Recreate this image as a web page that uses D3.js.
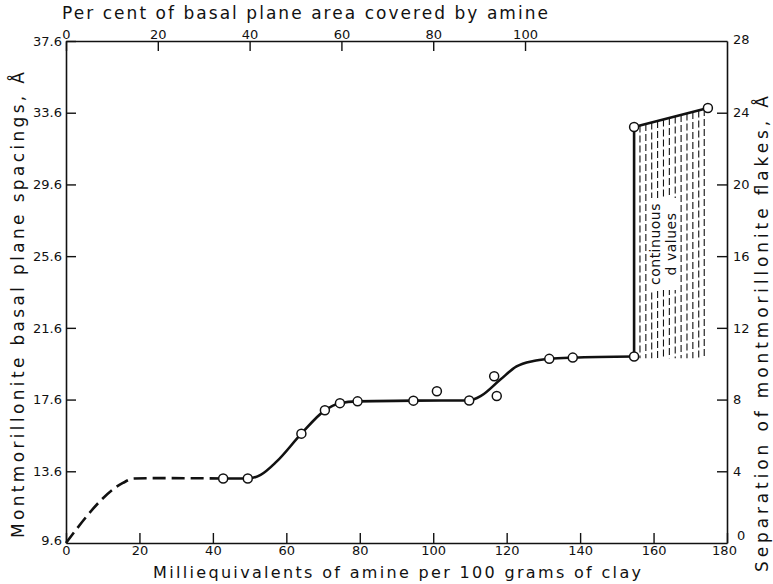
<!DOCTYPE html>
<html>
<head>
<meta charset="utf-8">
<script src="https://cdn.jsdelivr.net/npm/d3@7"></script>
<style>
  body { margin: 0; background: #fff; }
  svg { display: block; }
  text { font-family: "DejaVu Sans", sans-serif; fill: #111; }
</style>
</head>
<body>
<div id="chart"></div>
<script>
// tick values
const meqTicks = [0, 20, 40, 60, 80, 100, 120, 140, 160, 180];
const pctTicks = [0, 20, 40, 60, 80, 100];
const spacingTicks = [9.6, 13.6, 17.6, 21.6, 25.6, 29.6, 33.6, 37.6];
const sepTicks = [0, 4, 8, 12, 16, 20, 24, 28];

// measured points (meq, d spacing)
const pointMeq = [42.8, 49.5, 64.1, 70.5, 74.6, 79.4, 94.6, 101, 109.8, 116.6, 117.3, 131.6, 138, 154.7, 154.7, 174.8];
const pointD = [13.2, 13.2, 15.7, 17.0, 17.4, 17.5, 17.54, 18.06, 17.55, 18.9, 17.8, 19.87, 19.94, 20.0, 32.8, 33.86];

// dashed extrapolated part of the curve
const dashMeq = [0, 15.5, 18.5, 25, 42.8];
const dashD = [9.6, 12.95, 13.2, 13.22, 13.2];

// smooth fitted curve
const curveMeq = [42.8, 49.5, 53, 57.4, 64.1, 70.5, 74.6, 79.4, 94.6, 109.8, 113, 118.2, 122.7, 127.3, 131.6, 138, 154.7];
const curveD = [13.2, 13.2, 13.4, 14.15, 15.7, 17.0, 17.4, 17.5, 17.54, 17.55, 17.8, 18.7, 19.45, 19.75, 19.87, 19.94, 20.0];

// jump and upper segment
const jumpMeq = [154.7, 154.7, 174.8];
const jumpD = [20.0, 32.8, 33.86];

// hatched "continuous d values" region
const hatchMeq = [156.3, 157.9, 159.5, 161.1, 162.7, 164.3, 165.9, 167.5, 169.1, 170.7, 172.3, 173.8];
const hatchBottom = 19.9;

const width = 773;
const height = 584;
const margin = { top: 41, right: 46, bottom: 41, left: 66 };

const svg = d3
  .select("#chart")
  .append("svg")
  .attr("width", width)
  .attr("height", height);

const x = d3.scaleLinear().domain([0, 180]).range([margin.left, width - margin.right]);
const xTop = d3.scaleLinear().domain([0, 144]).range([margin.left, width - margin.right]);
const y = d3.scaleLinear().domain([9.6, 37.6]).range([height - margin.bottom, margin.top]);
const yRight = d3.scaleLinear().domain([0, 28]).range([height - margin.bottom, margin.top]);

const styleAxis = (g) => {
  g.selectAll(".domain").attr("stroke", "#111").attr("stroke-width", 1.6);
  g.selectAll(".tick line").attr("stroke", "#111").attr("stroke-width", 1.4);
  g.selectAll(".tick text").style("font-size", "13px").attr("fill", "#111");
};

// bottom axis
svg
  .append("g")
  .attr("transform", `translate(0, ${height - margin.bottom})`)
  .call(d3.axisBottom(x).tickValues(meqTicks).tickSize(-10).tickSizeOuter(0).tickPadding(3))
  .call(styleAxis)
  .call((g) => g.selectAll(".tick text").filter((d) => d === 180).attr("dx", -3));

// top axis
svg
  .append("g")
  .attr("transform", `translate(0, ${margin.top})`)
  .call(d3.axisTop(xTop).tickValues(pctTicks).tickSize(-10).tickSizeOuter(0).tickPadding(3))
  .call(styleAxis)
  .call((g) => g.selectAll(".tick text").attr("dy", "0.1em"));

// left axis
svg
  .append("g")
  .attr("transform", `translate(${margin.left}, 0)`)
  .call(d3.axisLeft(y).tickValues(spacingTicks).tickFormat(d3.format(".1f")).tickSize(-10).tickSizeOuter(0).tickPadding(4))
  .call(styleAxis)
  .call((g) => g.selectAll(".tick text").filter((d) => d === 9.6).attr("dy", "0.1em"))
  .call((g) => g.select(".tick:first-of-type line").remove());

// right axis
svg
  .append("g")
  .attr("transform", `translate(${width - margin.right}, 0)`)
  .call(d3.axisRight(yRight).tickValues(sepTicks).tickSize(-10).tickSizeOuter(0).tickPadding(6))
  .call(styleAxis)
  .call((g) => g.selectAll(".tick text").filter((d) => d === 0).attr("dy", "-0.25em").attr("dx", 4))
  .call((g) => g.selectAll(".tick text").filter((d) => d === 28).attr("dy", "0.2em"))
  .call((g) => g.selectAll(".tick").filter((d) => d === 0 || d === 28).select("line").remove());

// axis titles
svg
  .append("text")
  .attr("x", 62)
  .attr("y", 19)
  .attr("textLength", 486)
  .attr("lengthAdjust", "spacing")
  .style("font-size", "17px")
  .text("Per cent of basal plane area covered by amine");

svg
  .append("text")
  .attr("x", 153)
  .attr("y", 578)
  .attr("textLength", 488)
  .attr("lengthAdjust", "spacing")
  .style("font-size", "16px")
  .text("Milliequivalents of amine per 100 grams of clay");

svg
  .append("text")
  .attr("transform", "translate(24, 538) rotate(-90)")
  .attr("textLength", 466)
  .attr("lengthAdjust", "spacing")
  .style("font-size", "17px")
  .text("Montmorillonite basal plane spacings, Å");

svg
  .append("text")
  .attr("transform", "translate(768, 572) rotate(-90)")
  .attr("textLength", 476)
  .attr("lengthAdjust", "spacing")
  .style("font-size", "17px")
  .text("Separation of montmorillonite flakes, Å");

// hatch lines
const topLine = d3.scaleLinear().domain([jumpMeq[1], jumpMeq[2]]).range([jumpD[1], jumpD[2]]);
svg
  .append("g")
  .selectAll("line")
  .data(hatchMeq)
  .join("line")
  .attr("x1", (d) => x(d))
  .attr("x2", (d) => x(d))
  .attr("y1", (d) => y(topLine(d)))
  .attr("y2", y(hatchBottom))
  .attr("stroke", "#111")
  .attr("stroke-width", 1.1)
  .attr("stroke-dasharray", "7,3");

// label box in the hatched area
svg
  .append("rect")
  .attr("x", x(157.9) + 3)
  .attr("y", 198)
  .attr("width", x(166.4) - x(157.9))
  .attr("height", 92)
  .attr("fill", "#fff");

const label = svg
  .append("text")
  .attr("transform", `translate(${x(160.4)}, 244) rotate(-90)`)
  .attr("text-anchor", "middle")
  .style("font-size", "14px");
label.append("tspan").attr("x", 0).attr("dy", "0.35em").attr("letter-spacing", "0.5px").text("continuous");
label.append("tspan").attr("x", 0).attr("dy", "1.15em").attr("letter-spacing", "0.5px").text("d values");

// curves
const line = d3
  .line()
  .x((d) => x(d[0]))
  .y((d) => y(d[1]))
  .curve(d3.curveMonotoneX);

svg
  .append("path")
  .datum(dashMeq.map((m, i) => [m, dashD[i]]))
  .attr("d", line)
  .attr("fill", "none")
  .attr("stroke", "#111")
  .attr("stroke-width", 2.6)
  .attr("stroke-dasharray", "13,6");

svg
  .append("path")
  .datum(curveMeq.map((m, i) => [m, curveD[i]]))
  .attr("d", line)
  .attr("fill", "none")
  .attr("stroke", "#111")
  .attr("stroke-width", 2.6);

svg
  .append("path")
  .datum(jumpMeq.map((m, i) => [m, jumpD[i]]))
  .attr("d", d3.line().x((d) => x(d[0])).y((d) => y(d[1])))
  .attr("fill", "none")
  .attr("stroke", "#111")
  .attr("stroke-width", 2.6);

// data points
svg
  .append("g")
  .selectAll("circle")
  .data(pointMeq.map((m, i) => [m, pointD[i]]))
  .join("circle")
  .attr("cx", (d) => x(d[0]))
  .attr("cy", (d) => y(d[1]))
  .attr("r", 4.5)
  .attr("fill", "#fff")
  .attr("stroke", "#111")
  .attr("stroke-width", 1.5);
</script>
</body>
</html>
